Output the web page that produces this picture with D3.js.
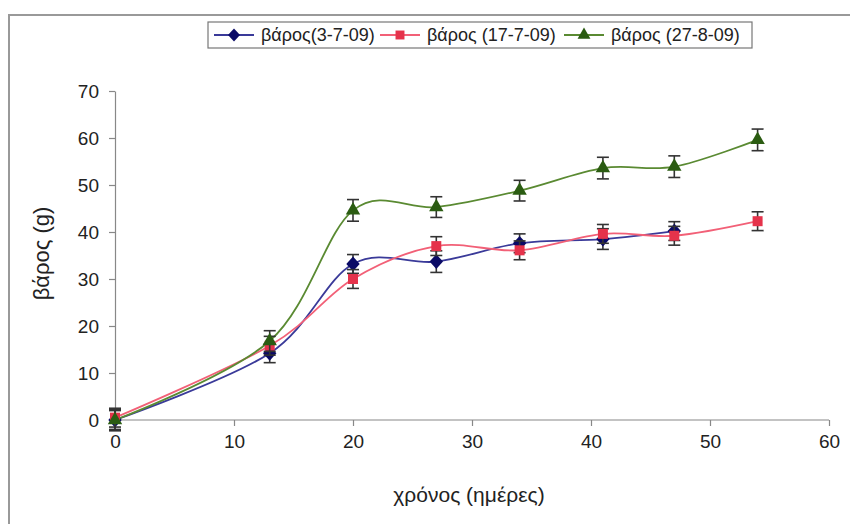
<!DOCTYPE html>
<html>
<head>
<meta charset="utf-8">
<script src="https://cdn.jsdelivr.net/npm/d3@7"></script>
<style>
  body { margin: 0; background: #fff; }
  svg { display: block; font-family: "Liberation Sans", Arial, sans-serif; }
  .axis text { font-size: 19px; fill: #222; }
  .axis path, .axis line { stroke: #888; stroke-width: 1.2; }
</style>
</head>
<body>
<div id="chart"></div>
<script>
(function () {
    const width = 850, height = 524;

    // ── DATA ───────────────────────────────────────────────────────────────
    const days = [0, 13, 20, 27, 34, 41, 47, 54];
    const seriesNames = ["βάρος(3-7-09)", "βάρος (17-7-09)", "βάρος (27-8-09)"];
    const weight1 = [0, 14.2, 33.2, 33.7, 37.6, 38.5, 40.2];
    const err1    = [2.0, 2.0, 2.0, 2.3, 2.0, 2.2, 2.0];
    const weight2 = [0.5, 15.8, 30.0, 37.0, 36.1, 39.6, 39.2, 42.3];
    const err2    = [2.0, 2.0, 2.0, 2.0, 2.0, 2.0, 2.0, 2.0];
    const weight3 = [0, 16.8, 44.6, 45.3, 48.8, 53.6, 53.9, 59.6];
    const err3    = [2.3, 2.2, 2.3, 2.2, 2.2, 2.3, 2.3, 2.3];
    const xTicks = [0, 10, 20, 30, 40, 50, 60];
    const yTicks = [0, 10, 20, 30, 40, 50, 60, 70];

    // wide diamond like Excel's marker
    const wideDiamond = {
        draw(ctx, size) {
            const r = Math.sqrt(size) * 0.75;
            ctx.moveTo(0, -r * 1.1);
            ctx.lineTo(r, 0);
            ctx.lineTo(0, r * 1.1);
            ctx.lineTo(-r, 0);
            ctx.closePath();
        }
    };

    const series = [
        { name: seriesNames[0], y: weight1, err: err1, line: "#3a3a99", mark: "#0a0a66", shape: wideDiamond, size: 80 },
        { name: seriesNames[1], y: weight2, err: err2, line: "#f26077", mark: "#e5334b", shape: d3.symbolSquare, size: 100 },
        { name: seriesNames[2], y: weight3, err: err3, line: "#5a8a32", mark: "#2b5c12", shape: d3.symbolTriangle, size: 90 }
    ];

    // ── SVG SETUP ──────────────────────────────────────────────────────────
    const svg = d3.select("#chart").append("svg")
        .attr("width", width).attr("height", height);

    // outer chart frame (only top/left visible)
    svg.append("rect")
        .attr("x", 9).attr("y", 15)
        .attr("width", 900).attr("height", 600)
        .attr("fill", "none").attr("stroke", "#999").attr("stroke-width", 2);

    const x = d3.scaleLinear().domain([0, 60]).range([115, 829]);
    const y = d3.scaleLinear().domain([0, 70]).range([420, 91]);

    // ── AXES ───────────────────────────────────────────────────────────────
    svg.append("g").attr("class", "axis")
        .attr("transform", "translate(0,420)")
        .call(d3.axisBottom(x).tickValues(xTicks).tickSize(6).tickSizeOuter(0).tickPadding(9))
        .call(g => g.select(".domain").attr("d", `M${x(0)},0H${x(60)}`));

    svg.append("g").attr("class", "axis")
        .attr("transform", "translate(115,0)")
        .call(d3.axisLeft(y).tickValues(yTicks).tickSize(6).tickSizeOuter(0).tickPadding(10));

    svg.selectAll(".axis text").attr("font-family", null);

    svg.append("text")
        .attr("x", 469).attr("y", 502)
        .attr("text-anchor", "middle")
        .attr("font-size", 21).attr("fill", "#222")
        .text("χρόνος (ημέρες)");

    svg.append("text")
        .attr("transform", `translate(49,${y(35) - 2}) rotate(-90)`)
        .attr("text-anchor", "middle")
        .attr("font-size", 22).attr("fill", "#222")
        .text("βάρος (g)");

    // ── SERIES ─────────────────────────────────────────────────────────────
    const line = d3.line()
        .x(d => x(d.x)).y(d => y(d.y))
        .curve(d3.curveCardinal.tension(0));

    series.forEach(s => {
        s.pts = s.y.map((v, i) => ({ x: days[i], y: v, e: s.err[i] }));
    });

    series.forEach(s => {
        svg.append("path")
            .datum(s.pts)
            .attr("fill", "none")
            .attr("stroke", s.line)
            .attr("stroke-width", 1.8)
            .attr("d", line);
    });

    series.forEach(s => {
        const eb = svg.append("g").attr("stroke", "#333").attr("stroke-width", 1.6);
        eb.selectAll("line.v").data(s.pts).enter().append("line")
            .attr("x1", d => x(d.x)).attr("x2", d => x(d.x))
            .attr("y1", d => y(d.y + d.e)).attr("y2", d => y(d.y - d.e));
        eb.selectAll("line.t").data(s.pts).enter().append("line")
            .attr("x1", d => x(d.x) - 6).attr("x2", d => x(d.x) + 6)
            .attr("y1", d => y(d.y + d.e)).attr("y2", d => y(d.y + d.e));
        eb.selectAll("line.b").data(s.pts).enter().append("line")
            .attr("x1", d => x(d.x) - 6).attr("x2", d => x(d.x) + 6)
            .attr("y1", d => y(d.y - d.e)).attr("y2", d => y(d.y - d.e));

        svg.append("g").selectAll("path").data(s.pts).enter().append("path")
            .attr("transform", d => `translate(${x(d.x)},${y(d.y)})`)
            .attr("d", d3.symbol().type(s.shape).size(s.size))
            .attr("fill", s.mark);
    });

    // ── LEGEND ─────────────────────────────────────────────────────────────
    const legend = svg.append("g");
    legend.append("rect")
        .attr("x", 208).attr("y", 22).attr("width", 544).attr("height", 26)
        .attr("fill", "#fff").attr("stroke", "#777").attr("stroke-width", 1.2);

    const legendX = [214, 380, 564];
    series.forEach((s, i) => {
        const g = legend.append("g").attr("transform", `translate(${legendX[i]},35)`);
        g.append("line").attr("x1", 0).attr("x2", 40)
            .attr("stroke", s.line).attr("stroke-width", 1.8);
        g.append("path").attr("transform", "translate(20,0)")
            .attr("d", d3.symbol().type(s.shape).size(s.size * 0.8))
            .attr("fill", s.mark);
        g.append("text").attr("x", 47).attr("y", 6)
            .attr("font-size", 18).attr("fill", "#222")
            .text(s.name);
    });
})();
</script>
</body>
</html>
